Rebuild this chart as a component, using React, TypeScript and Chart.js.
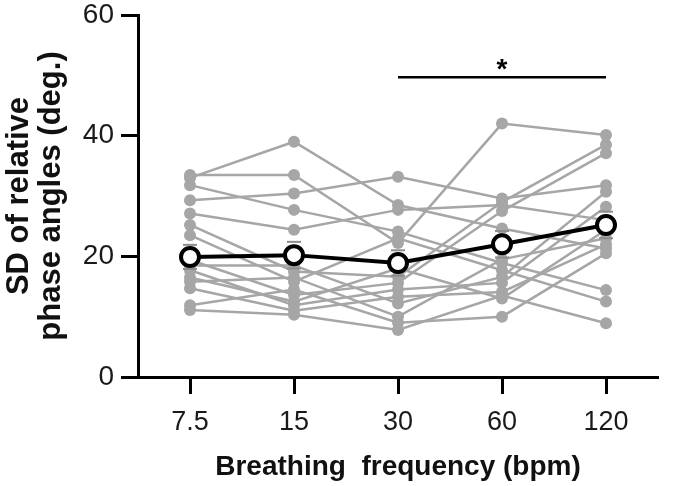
import React, { useEffect, useRef } from "react";
import { Chart, registerables } from "chart.js";

Chart.register(...registerables);

const categories = ["7.5", "15", "30", "60", "120"];

// individual subjects (SD of relative phase angles, deg.)
const s1 = [33.0, 39.0, 28.5, 24.6, 21.3];
const s2 = [33.5, 33.5, 22.2, 42.0, 40.1];
const s3 = [29.3, 30.4, 33.2, 29.6, 31.8];
const s4 = [31.8, 27.7, 24.1, 18.9, 14.4];
const s5 = [27.1, 24.4, 27.7, 28.5, 26.0];
const s6 = [25.2, 17.5, 16.6, 29.0, 38.5];
const s7 = [23.5, 15.8, 23.0, 17.7, 12.5];
const s8 = [19.4, 13.6, 15.6, 27.5, 37.1];
const s9 = [18.5, 18.5, 12.2, 16.6, 30.7];
const s10 = [17.7, 11.9, 14.5, 15.6, 28.2];
const s11 = [16.5, 12.5, 18.0, 13.0, 24.4];
const s12 = [15.8, 16.5, 10.0, 19.5, 23.0];
const s13 = [14.7, 11.0, 13.3, 14.1, 22.0];
const s14 = [11.9, 14.5, 9.0, 10.0, 20.5];
const s15 = [11.1, 10.3, 7.8, 13.5, 8.9];
const subjects = [s1, s2, s3, s4, s5, s6, s7, s8, s9, s10, s11, s12, s13, s14, s15];

const meanValues = [19.9, 20.2, 18.9, 22.0, 25.2];
const semValues = [2.0, 2.2, 2.1, 2.2, 2.2];

const yTicks = [0, 20, 40, 60];
const sigFrom = "30";
const sigTo = "120";
const sigLevel = 49.7;
const sigLabel = "*";

const FONT = "'Liberation Sans', Arial, Helvetica, sans-serif";
const GRAY = "#a6a6a6";

const overlay = {
  id: "overlay",
  afterDatasetsDraw(chart: any) {
    const { ctx, scales } = chart;
    const x = scales.x;
    const y = scales.y;
    ctx.save();
    ctx.strokeStyle = "#8c8c8c";
    ctx.lineWidth = 2;
    meanValues.forEach((m, i) => {
      const px = x.getPixelForValue(i);
      [m + semValues[i], m - semValues[i]].forEach((v) => {
        const py = y.getPixelForValue(v);
        ctx.beginPath();
        ctx.moveTo(px - 7, py);
        ctx.lineTo(px + 7, py);
        ctx.stroke();
      });
    });
    const x1 = x.getPixelForValue(categories.indexOf(sigFrom));
    const x2 = x.getPixelForValue(categories.indexOf(sigTo));
    const py = y.getPixelForValue(sigLevel);
    ctx.strokeStyle = "#000";
    ctx.lineWidth = 2.5;
    ctx.beginPath();
    ctx.moveTo(x1, py);
    ctx.lineTo(x2, py);
    ctx.stroke();
    ctx.fillStyle = "#000";
    ctx.font = `bold 28px ${FONT}`;
    ctx.textAlign = "center";
    ctx.textBaseline = "alphabetic";
    ctx.fillText(sigLabel, (x1 + x2) / 2, py + 1);
    ctx.restore();
  },
};

export default function App() {
  const ref = useRef<HTMLCanvasElement>(null);
  useEffect(() => {
    document.body.style.margin = "0";
    const datasets: any[] = [
      {
        data: meanValues,
        borderColor: "#000",
        borderWidth: 4,
        pointRadius: 9,
        pointBorderWidth: 4,
        pointBackgroundColor: "#fff",
        pointBorderColor: "#000",
        tension: 0,
        order: 0,
      },
      ...subjects.map((s) => ({
        data: s,
        borderColor: GRAY,
        borderWidth: 2.5,
        pointRadius: 6,
        pointBorderWidth: 0,
        pointBackgroundColor: GRAY,
        pointBorderColor: GRAY,
        tension: 0,
        order: 1,
      })),
    ];
    const chart = new Chart(ref.current!, {
      type: "line",
      data: { labels: categories, datasets },
      options: {
        animation: false,
        responsive: false,
        layout: { padding: { left: 0, top: 15, right: 27, bottom: 0 } },
        plugins: { legend: { display: false }, tooltip: { enabled: false } },
        scales: {
          x: {
            type: "category",
            offset: true,
            grid: {
              display: true,
              drawOnChartArea: false,
              drawTicks: true,
              tickLength: 17,
              tickWidth: 3,
              tickColor: "#000",
              offset: false,
            },
            border: { display: true, width: 3, color: "#000" },
            ticks: { color: "#1a1a1a", font: { family: FONT, size: 27 }, padding: 12, maxRotation: 0 },
            title: {
              display: true,
              text: "Breathing  frequency (bpm)",
              color: "#111",
              font: { family: FONT, size: 28, weight: "bold", lineHeight: 1.15 },
              padding: { top: 0, bottom: 3 },
            },
            afterFit: (s: any) => {
              s.height = 109;
              s.paddingLeft = 0;
              s.paddingRight = 0;
            },
          },
          y: {
            min: 0,
            max: 60,
            afterBuildTicks: (s: any) => {
              s.ticks = yTicks.map((v) => ({ value: v }));
            },
            grid: {
              display: true,
              drawOnChartArea: false,
              drawTicks: true,
              tickLength: 17,
              tickWidth: 3,
              tickColor: "#000",
            },
            border: { display: true, width: 3, color: "#000" },
            ticks: { color: "#1a1a1a", font: { family: FONT, size: 28 }, padding: 7 },
            title: {
              display: true,
              text: ["SD of relative", "phase angles (deg.)"],
              color: "#111",
              font: { family: FONT, size: 31, weight: "bold", lineHeight: 1.02 },
              padding: { top: 4, bottom: 0 },
            },
            afterFit: (s: any) => {
              s.width = 138;
              s.paddingTop = 0;
              s.paddingBottom = 0;
            },
          },
        },
      },
      plugins: [overlay],
    });
    return () => chart.destroy();
  }, []);
  return (
    <div style={{ width: 685, height: 486 }}>
      <canvas ref={ref} width={685} height={486} />
    </div>
  );
}
